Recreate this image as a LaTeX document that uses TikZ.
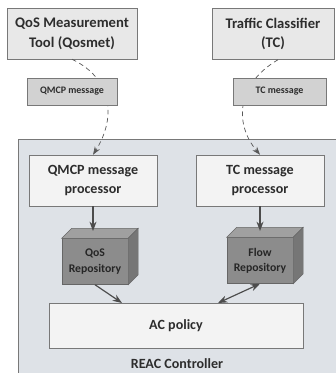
\documentclass[tikz,border=0pt]{standalone}
\usepackage{fontspec}
\setmainfont{Carlito}
\definecolor{TextGray}{RGB}{45, 45, 45}
\definecolor{EdgeGray}{RGB}{120, 120, 120}
\definecolor{ToolFill}{RGB}{232, 232, 232}
\definecolor{MsgFill}{RGB}{210, 210, 210}
\definecolor{CtrlFill}{RGB}{222, 226, 231}
\definecolor{ProcFill}{RGB}{243, 243, 243}
\definecolor{CubeFront}{RGB}{140, 140, 140}
\definecolor{CubeTop}{RGB}{160, 160, 160}
\definecolor{CubeSide}{RGB}{118, 118, 118}
\usetikzlibrary{arrows.meta, positioning, calc}

\begin{document}
\begin{tikzpicture}[x=0.03cm, y=-0.03cm,
        tool/.style={rectangle, draw=EdgeGray, fill=ToolFill, minimum width=130*0.03cm, minimum height=51*0.03cm, align=center, text=TextGray, font=\fontsize{12.5}{17}\selectfont\bfseries},
        msg/.style={rectangle, draw=EdgeGray, fill=MsgFill, minimum width=90*0.03cm, minimum height=27*0.03cm, align=center, text=TextGray, font=\fontsize{8.5}{10}\selectfont\bfseries},
        proc/.style={rectangle, draw=EdgeGray, fill=ProcFill, minimum width=128*0.03cm, minimum height=51*0.03cm, align=center, text=TextGray, font=\fontsize{12}{17}\selectfont\bfseries},
        repo/.style={rectangle, draw=black!60, fill=CubeFront, minimum width=66*0.03cm, minimum height=46*0.03cm, align=center, text=black!85, font=\fontsize{10}{13}\selectfont\bfseries},
        arrow/.style={-{Stealth[length=8pt, width=6pt]}, line width=1pt, draw=black!70},
        dasharrow/.style={-{Stealth[length=7pt, width=5pt]}, dash pattern=on 4pt off 3pt, line width=0.6pt, draw=black!65}
    ]
    \useasboundingbox (0,0) rectangle (335,373);
    % controller background
    \fill[CtrlFill, draw=EdgeGray] (18,139) rectangle (345,385);
    \node[text=TextGray, font=\fontsize{12}{14}\selectfont\bfseries] (reac) at (177,364) {REAC Controller};

    \node[tool] (qosmet) at (72,33.5) {QoS Measurement\\Tool (Qosmet)};
    \node[tool, minimum width=122*0.03cm] (tc) at (273,34) {Traffic Classifier\\(TC)};

    \node[proc] (qmcpproc) at (93,180.5) {QMCP message\\processor};
    \node[proc] (tcproc) at (260,180.5) {TC message\\processor};

    % dashed message paths
    \draw[dasharrow] (qosmet.south) .. controls (115,80) and (115,120) .. (qmcpproc.north);
    \draw[dasharrow] ($(tc.south)+(5,0)$) .. controls (235,85) and (235,125) .. (tcproc.north);

    \node[msg] (qmcpmsg) at (72,91.5) {QMCP message};
    \node[msg, minimum width=93*0.03cm] (tcmsg) at (279.5,91.5) {TC message};

    % repositories as cubes
    \node[repo] (qosrepo) at (95,261.5) {QoS\\Repository};
    \node[repo] (flowrepo) at (260,260.5) {Flow\\Repository};
    \foreach \r in {qosrepo, flowrepo} {
        \filldraw[fill=CubeTop, draw=black!60] (\r.north west) -- ++(10,-10) -- ($(\r.north east)+(10,-10)$) -- (\r.north east) -- cycle;
        \filldraw[fill=CubeSide, draw=black!60] (\r.north east) -- ++(10,-10) -- ($(\r.south east)+(10,-10)$) -- (\r.south east) -- cycle;
    }

    \node[proc, minimum width=254*0.03cm, minimum height=45*0.03cm, font=\fontsize{12}{14}\selectfont\bfseries] (ac) at (176,325.5) {AC policy};

    \coordinate (qostop) at (93,231);
    \coordinate (flowtop) at (260,231);
    \coordinate (acin) at (122,303);
    \coordinate (acout) at (218,303);
    \draw[arrow] (qmcpproc) -- (qostop);
    \draw[arrow] (tcproc) -- (flowtop);
    \draw[arrow] (qosrepo.south) -- (acin);
    \draw[arrow, {Stealth[length=8pt, width=6pt]}-{Stealth[length=8pt, width=6pt]}] (flowrepo.south) -- (acout);
\end{tikzpicture}
\end{document}
